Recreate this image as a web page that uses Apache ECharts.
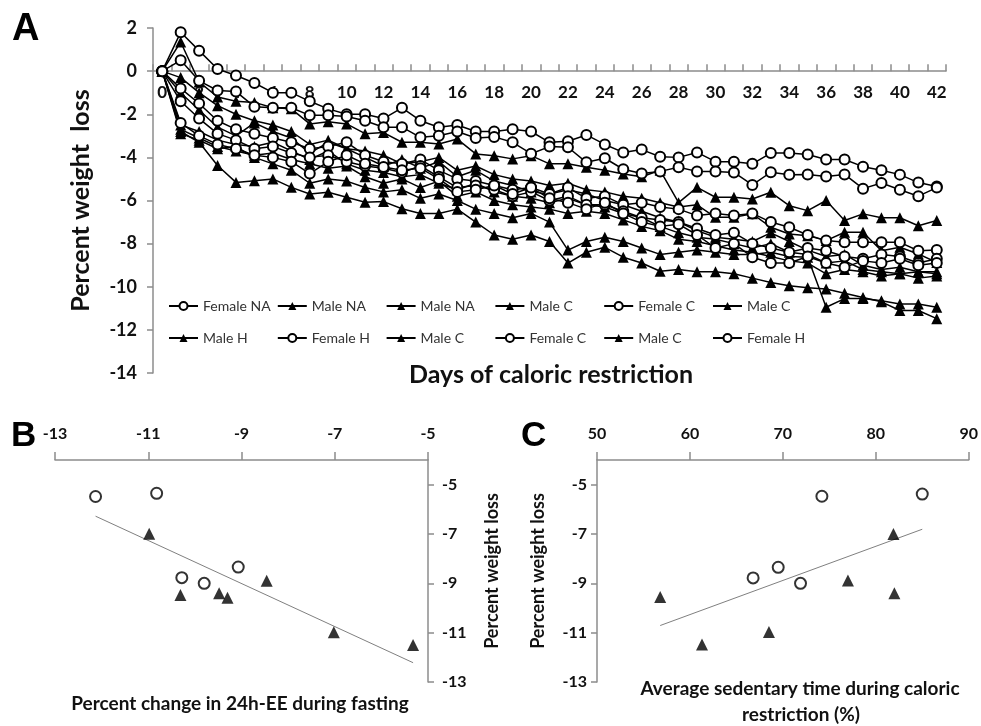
<!DOCTYPE html>
<html>
<head>
<meta charset="utf-8">
<script src="https://cdn.jsdelivr.net/npm/echarts@6.0.0/dist/echarts.min.js"></script>
<style>
  html, body { margin: 0; padding: 0; background: #fff; }
  #chart { width: 981px; height: 726px; }
</style>
</head>
<body>
<div id="chart"></div>
<script>
// ---- Panel A: percent weight loss by day of caloric restriction ----
const days = [0, 1, 2, 3, 4, 5, 6, 7, 8, 9, 10, 11, 12, 13, 14, 15, 16, 17, 18, 19, 20,
  21, 22, 23, 24, 25, 26, 27, 28, 29, 30, 31, 32, 33, 34, 35, 36, 37, 38, 39, 40, 41, 42];

const seriesNames = ['Female NA', 'Male NA', 'Male NA', 'Male C', 'Female C', 'Male C',
  'Male H', 'Female H', 'Male C', 'Female C', 'Male C', 'Female H'];

const femaleNA = [0, 1.8, 0.95, 0.1, -0.2, -0.55, -1.0, -1.0, -1.4, -1.75, -2.0, -2.0, -2.2, -1.7, -2.3, -2.6, -2.5, -2.8, -2.8, -2.7, -2.8, -3.3, -3.25, -2.96, -3.4, -3.77, -3.64, -3.97, -4.0, -3.77, -4.2, -4.2, -4.3, -3.8, -3.8, -3.87, -4.1, -4.1, -4.43, -4.6, -4.8, -5.17, -5.35];
const maleNA1 = [0, 1.35, -0.5, -1.2, -1.4, -1.45, -1.7, -1.75, -2.45, -2.35, -2.45, -2.9, -2.85, -3.3, -3.3, -3.38, -3.15, -3.84, -3.92, -4.07, -3.92, -4.3, -4.3, -4.46, -4.6, -4.77, -4.9, -4.6, -6.1, -5.39, -5.85, -5.85, -5.93, -5.62, -6.24, -6.47, -6.0, -6.93, -6.62, -6.8, -6.8, -7.17, -6.93];
const maleNA2 = [0, -0.3, -1.0, -1.6, -2.0, -2.3, -2.5, -2.8, -3.4, -3.2, -3.6, -3.7, -3.9, -4.3, -4.2, -4.0, -4.6, -4.4, -4.8, -5.0, -5.1, -5.3, -5.2, -5.5, -5.6, -5.8, -5.9, -6.1, -6.3, -6.2, -6.78, -6.78, -6.62, -7.24, -7.55, -7.63, -7.86, -7.47, -7.47, -8.33, -8.17, -8.48, -8.87];
const maleC1 = [0, -1.0, -1.8, -2.6, -3.0, -2.4, -2.8, -3.1, -3.8, -3.3, -3.6, -4.0, -4.4, -4.1, -4.5, -4.2, -4.9, -4.6, -5.1, -5.3, -5.6, -5.7, -5.5, -5.7, -6.0, -6.2, -6.5, -6.8, -7.0, -7.4, -7.7, -7.8, -7.9, -7.5, -7.9, -8.3, -8.6, -8.5, -9.0, -9.2, -9.1, -9.3, -9.3];
const femaleC1 = [0, 0.5, -0.45, -0.9, -0.95, -1.65, -1.7, -1.7, -2.05, -2.05, -2.1, -2.3, -2.6, -2.6, -3.07, -3.0, -2.8, -3.1, -3.05, -3.3, -3.83, -3.5, -3.53, -4.23, -4.04, -4.55, -4.75, -4.65, -4.46, -4.65, -4.65, -4.7, -5.28, -4.69, -4.81, -4.79, -4.89, -4.79, -5.45, -5.19, -5.5, -5.8, -5.4];
const maleC2 = [0, -2.5, -2.8, -3.2, -3.4, -3.5, -3.3, -3.7, -4.1, -3.7, -4.3, -4.6, -4.7, -4.9, -4.8, -5.2, -5.5, -5.2, -5.6, -5.8, -5.9, -6.1, -5.9, -6.2, -6.3, -6.6, -6.8, -7.2, -7.5, -7.7, -7.8, -8.0, -8.2, -8.0, -8.4, -8.5, -8.9, -8.8, -9.2, -9.3, -9.4, -9.3, -9.4];
const maleH = [0, -2.7, -3.1, -3.5, -3.7, -3.9, -3.8, -4.1, -4.3, -4.5, -4.4, -4.9, -5.2, -5.0, -5.4, -5.1, -5.8, -5.6, -6.0, -6.2, -6.3, -6.4, -6.6, -6.5, -6.6, -6.9, -7.2, -7.4, -7.8, -7.9, -8.1, -8.3, -8.4, -8.6, -8.8, -8.9, -9.4, -9.2, -9.3, -9.5, -9.4, -9.6, -9.5];
const femaleH1 = [0, -0.8, -1.5, -2.3, -2.7, -2.9, -3.1, -3.3, -3.6, -3.5, -3.3, -3.9, -4.2, -4.3, -4.1, -4.6, -5.0, -5.1, -5.3, -5.5, -5.4, -5.7, -5.4, -5.9, -5.8, -6.2, -6.1, -6.3, -6.4, -6.7, -6.6, -6.7, -6.6, -7.0, -7.24, -7.6, -7.86, -7.94, -7.94, -7.94, -7.94, -8.33, -8.3];
const maleC3 = [0, -2.9, -3.2, -3.6, -3.5, -4.0, -4.3, -4.6, -5.2, -5.0, -5.1, -5.4, -5.6, -5.5, -5.9, -5.7, -6.0, -6.4, -6.6, -6.8, -6.6, -7.0, -8.3, -7.9, -7.7, -7.9, -8.2, -8.5, -8.4, -8.3, -8.4, -8.5, -8.5, -8.4, -8.6, -8.63, -10.95, -10.55, -10.55, -10.65, -10.8, -10.8, -10.95];
const femaleC2 = [0, -1.4, -2.2, -2.9, -3.2, -3.6, -3.5, -3.8, -4.0, -3.9, -4.2, -4.4, -4.5, -4.7, -4.4, -4.9, -5.4, -5.3, -5.5, -5.8, -5.6, -6.0, -5.8, -6.2, -6.2, -6.5, -6.8, -6.9, -7.0, -7.3, -7.6, -7.5, -8.0, -8.2, -8.4, -8.2, -8.33, -8.6, -8.7, -8.5, -8.6, -8.9, -8.7];
const maleC4 = [0, -2.8, -3.3, -4.38, -5.16, -5.08, -5.0, -5.39, -5.7, -5.62, -5.85, -6.08, -6.05, -6.38, -6.6, -6.6, -6.4, -7.0, -7.6, -7.8, -7.6, -7.9, -8.9, -8.4, -8.17, -8.63, -8.9, -9.28, -9.2, -9.3, -9.3, -9.4, -9.6, -9.8, -9.95, -10.05, -10.1, -10.3, -10.5, -10.7, -11.1, -11.1, -11.48];
const femaleH2 = [0, -2.4, -3.0, -3.4, -3.6, -3.9, -4.0, -4.2, -4.75, -4.2, -3.9, -4.3, -4.45, -4.6, -4.5, -5.0, -5.6, -5.5, -5.3, -5.7, -5.4, -5.9, -6.1, -6.4, -6.1, -6.6, -7.0, -7.2, -7.1, -7.6, -8.2, -8.0, -8.63, -8.9, -8.9, -8.6, -8.9, -9.1, -8.8, -8.9, -8.7, -9.0, -8.9];

const lossSeries = [femaleNA, maleNA1, maleNA2, maleC1, femaleC1, maleC2,
  maleH, femaleH1, maleC3, femaleC2, maleC4, femaleH2];

// ---- Panel B: percent change in 24h-EE during fasting vs weight loss ----
const eeFemaleX = [-12.13, -10.82, -10.28, -9.80, -9.07];
const eeFemaleY = [-5.48, -5.35, -8.77, -9.0, -8.34];
const eeMaleX = [-10.98, -10.31, -9.48, -9.30, -8.46, -7.02, -5.32];
const eeMaleY = [-6.99, -9.47, -9.40, -9.58, -8.90, -10.98, -11.5];

// ---- Panel C: sedentary time vs weight loss ----
const sedFemaleX = [74.2, 85.0, 66.8, 69.5, 71.9];
const sedFemaleY = [-5.47, -5.38, -8.78, -8.35, -9.0];
const sedMaleX = [81.9, 77.0, 82.0, 56.8, 68.5, 61.3];
const sedMaleY = [-7.0, -8.89, -9.4, -9.55, -10.97, -11.48];

const FONT = 'Lato';
const AXIS_GRAY = '#8c8c8c';

const gridA = { left: 153, top: 28, width: 793, height: 345 };
const yMinA = -14, yMaxA = 2;
// category axis sits on the zero line (Excel style), labels just under it
const zeroOffset = -gridA.height * (0 - yMinA) / (yMaxA - yMinA);

// legend needs unique names; repeated labels get trailing spaces
const seen = {};
const uniqueNames = seriesNames.map((n) => {
  seen[n] = (seen[n] || 0) + 1;
  return n + ' '.repeat(seen[n] - 1);
});

function zip(xs, ys) {
  return xs.map((x, i) => [x, ys[i]]);
}

// least squares trend line over the x range of the points
function trendLine(xs, ys) {
  const n = xs.length;
  const mx = xs.reduce((a, b) => a + b, 0) / n;
  const my = ys.reduce((a, b) => a + b, 0) / n;
  let sxy = 0, sxx = 0;
  for (let i = 0; i < n; i++) {
    sxy += (xs[i] - mx) * (ys[i] - my);
    sxx += (xs[i] - mx) * (xs[i] - mx);
  }
  const k = sxy / sxx;
  const x0 = Math.min(...xs), x1 = Math.max(...xs);
  return [[x0, my + k * (x0 - mx)], [x1, my + k * (x1 - mx)]];
}

const labelStyle = (size) => ({ fontFamily: FONT, fontWeight: 'bold', fontSize: size, color: '#111' });
const axisLine = { lineStyle: { color: AXIS_GRAY, width: 1.5 } };
const tick = (len, inside) => ({ show: true, length: len, inside: !!inside, lineStyle: { color: AXIS_GRAY, width: 1.5 } });

const lineSeries = lossSeries.map((data, i) => {
  const female = seriesNames[i].startsWith('Female');
  return {
    name: uniqueNames[i],
    type: 'line',
    xAxisIndex: 0,
    yAxisIndex: 0,
    data: data,
    symbol: female ? 'emptyCircle' : 'triangle',
    symbolSize: female ? 10 : 11,
    itemStyle: { color: '#000', borderWidth: 1.1 },
    lineStyle: { color: '#000', width: 1.5 },
  };
});

function scatterSet(axisIndex, fx, fy, mx, my) {
  return [
    {
      type: 'line', xAxisIndex: axisIndex, yAxisIndex: axisIndex,
      data: trendLine(fx.concat(mx), fy.concat(my)),
      showSymbol: false, lineStyle: { color: '#808080', width: 1 }, z: 1,
    },
    {
      type: 'scatter', xAxisIndex: axisIndex, yAxisIndex: axisIndex,
      data: zip(fx, fy), symbol: 'emptyCircle', symbolSize: 11,
      itemStyle: { color: '#000', borderWidth: 1.1 },
    },
    {
      type: 'scatter', xAxisIndex: axisIndex, yAxisIndex: axisIndex,
      data: zip(mx, my), symbol: 'triangle', symbolSize: 12,
      itemStyle: { color: '#000' },
    },
  ];
}

// Excel lays the legend out in a fixed 6-column table, one legend per cell
const legends = uniqueNames.map((name, i) => ({
  left: 163 + (i % 6) * 108.8,
  top: i < 6 ? 294 : 326,
  itemWidth: 29,
  itemHeight: 10,
  selectedMode: false,
  data: [name],
  formatter: (n) => n.trim(),
  textStyle: { fontFamily: FONT, fontSize: 14, color: '#333' },
}));

const option = {
  animation: false,
  backgroundColor: '#fff',
  grid: [
    gridA,
    { left: 55, top: 460, width: 373, height: 222 },
    { left: 597, top: 460, width: 373, height: 222 },
  ],
  legend: legends,
  xAxis: [
    {
      gridIndex: 0, type: 'category', data: days, boundaryGap: true,
      position: 'bottom', offset: zeroOffset,
      axisLine: Object.assign({ onZero: false }, axisLine),
      axisTick: Object.assign(tick(7, true), { interval: 0 }),
      axisLabel: Object.assign({ interval: 1, margin: 13 }, labelStyle(17)),
      splitLine: { show: false },
    },
    {
      gridIndex: 1, type: 'value', position: 'top', min: -13, max: -5, interval: 2,
      axisLine: Object.assign({ show: true, onZero: false }, axisLine),
      axisTick: tick(8),
      axisLabel: Object.assign({ margin: 18 }, labelStyle(16)),
      splitLine: { show: false },
    },
    {
      gridIndex: 2, type: 'value', position: 'top', min: 50, max: 90, interval: 10,
      axisLine: Object.assign({ show: true, onZero: false }, axisLine),
      axisTick: tick(8),
      axisLabel: Object.assign({ margin: 18 }, labelStyle(16)),
      splitLine: { show: false },
    },
  ],
  yAxis: [
    {
      gridIndex: 0, type: 'value', min: yMinA, max: yMaxA, interval: 2,
      axisLine: Object.assign({ show: true, onZero: false }, axisLine),
      axisTick: tick(6),
      axisLabel: Object.assign({ margin: 16 }, labelStyle(18)),
      splitLine: { show: false },
      name: 'Percent weight  loss', nameLocation: 'middle', nameGap: 60, nameRotate: 90,
      nameTextStyle: { fontFamily: FONT, fontWeight: 'bold', fontSize: 25, color: '#111' },
    },
    {
      gridIndex: 1, type: 'value', position: 'right', min: -13, max: -4, interval: 2,
      axisLine: Object.assign({ show: true, onZero: false }, axisLine),
      axisTick: tick(6),
      axisLabel: Object.assign({ margin: 14, showMaxLabel: false }, labelStyle(16)),
      splitLine: { show: false },
      name: 'Percent weight loss', nameLocation: 'middle', nameGap: 55, nameRotate: 90,
      nameTextStyle: { fontFamily: FONT, fontWeight: 'bold', fontSize: 18, color: '#111' },
    },
    {
      gridIndex: 2, type: 'value', position: 'left', min: -13, max: -4, interval: 2,
      axisLine: Object.assign({ show: true, onZero: false }, axisLine),
      axisTick: tick(6),
      axisLabel: Object.assign({ margin: 10, showMaxLabel: false }, labelStyle(16)),
      splitLine: { show: false },
      name: 'Percent weight loss', nameLocation: 'middle', nameGap: 50, nameRotate: 90,
      nameTextStyle: { fontFamily: FONT, fontWeight: 'bold', fontSize: 18, color: '#111' },
    },
  ],
  graphic: [
    { type: 'text', left: 12, top: 11, style: { text: 'A', font: 'bold 38px "Liberation Sans"', fill: '#000' } },
    { type: 'text', left: 11, top: 419, style: { text: 'B', font: 'bold 35px "Liberation Sans"', fill: '#000' } },
    { type: 'text', left: 521, top: 419, style: { text: 'C', font: 'bold 35px "Liberation Sans"', fill: '#000' } },
    { type: 'text', x: 551, y: 375, style: { text: 'Days of caloric restriction', font: 'bold 25px Lato', fill: '#111', textAlign: 'center', textVerticalAlign: 'middle' } },
    { type: 'text', x: 240, y: 704, style: { text: 'Percent change in 24h-EE during fasting', font: 'bold 19px Lato', fill: '#111', textAlign: 'center', textVerticalAlign: 'middle' } },
    { type: 'text', x: 800, y: 689, style: { text: 'Average sedentary time during caloric', font: 'bold 19px Lato', fill: '#111', textAlign: 'center', textVerticalAlign: 'middle' } },
    { type: 'text', x: 801, y: 715, style: { text: 'restriction (%)', font: 'bold 19px Lato', fill: '#111', textAlign: 'center', textVerticalAlign: 'middle' } },
  ],
  series: lineSeries
    .concat(scatterSet(1, eeFemaleX, eeFemaleY, eeMaleX, eeMaleY))
    .concat(scatterSet(2, sedFemaleX, sedFemaleY, sedMaleX, sedMaleY)),
};

const chart = echarts.init(document.getElementById('chart'));
chart.setOption(option);
</script>
</body>
</html>
